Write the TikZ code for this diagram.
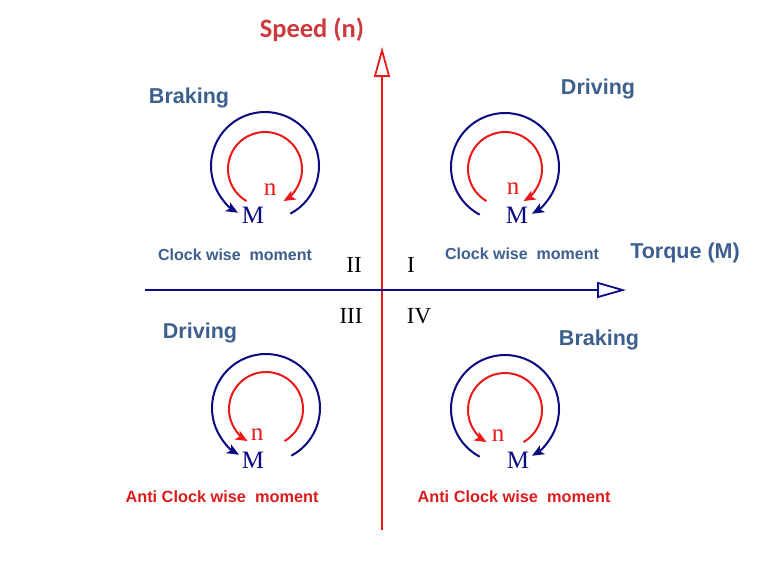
\documentclass[tikz,border=0pt]{standalone}
\usepackage{fontspec}
\setmainfont{Liberation Serif}
\setsansfont{Liberation Sans}
\newfontfamily\calfont{Carlito}
\usetikzlibrary{arrows.meta,calc}
\definecolor{navyc}{RGB}{10,10,130}
\definecolor{redc}{RGB}{235,25,25}
\definecolor{steelc}{RGB}{60,95,142}
\definecolor{speedc}{RGB}{205,58,62}
\definecolor{antic}{RGB}{222,28,28}
\tikzset{
  bluearc/.style={draw=navyc, line width=2pt, -{Stealth[length=12pt,width=10pt,inset=3pt]}},
  redarc/.style={draw=redc, line width=2pt, -{Stealth[length=12pt,width=10pt,inset=3pt]}},
  headtxt/.style={font=\sffamily\bfseries\fontsize{21.5}{23}\selectfont, text=steelc, inner sep=0pt},
  momtxt/.style={font=\sffamily\bfseries\fontsize{16}{18}\selectfont, text=steelc, inner sep=0pt},
  antitxt/.style={font=\sffamily\bfseries\fontsize{16.3}{18}\selectfont, text=antic, inner sep=0pt},
  romtxt/.style={font=\fontsize{23}{25}\selectfont, text=black, inner sep=0pt},
  ntxt/.style={font=\fontsize{25}{26}\selectfont, text=redc, inner sep=0pt},
  mtxt/.style={font=\fontsize{25}{26}\selectfont, text=navyc, inner sep=0pt},
}
\begin{document}
\begin{tikzpicture}[x=1pt,y=-1pt]
\useasboundingbox (0,0) rectangle (775,566);
% axes
\coordinate (vbot) at (382,530);
\coordinate (vtop) at (382,47);
\coordinate (hleft) at (145,290);
\coordinate (hright) at (626,290);
\draw[draw=redc, line width=2pt, -{Triangle[open,length=30pt,width=16pt,line width=1.8pt]}] (vbot) -- (vtop);
\draw[draw=navyc, line width=2pt, -{Triangle[open,length=29pt,width=16pt,line width=1.8pt]}] (hleft) -- (hright);
% axis labels
\node[font=\calfont\bfseries\fontsize{26.5}{28}\selectfont, text=speedc, inner sep=0pt] (speed) at (312,30) {Speed (n)};
\node[headtxt] (torque) at (685,253) {Torque (M)};
% quadrant headings
\node[headtxt] (h2) at (189,98) {Braking};
\node[headtxt] (h1) at (598,89) {Driving};
\node[headtxt] (h3) at (200,333) {Driving};
\node[headtxt] (h4) at (599,340) {Braking};
\node[momtxt] (m2) at (235,255) {Clock wise~~moment};
\node[momtxt] (m1) at (522,254) {Clock wise~~moment};
\node[antitxt] (m3) at (222,497) {Anti Clock wise~~moment};
\node[antitxt] (m4) at (514,497) {Anti Clock wise~~moment};
% roman numerals
\node[romtxt] (r2) at (354,265) {II};
\node[romtxt] (r1) at (411,265) {I};
\node[romtxt] (r3) at (351,316) {III};
\node[romtxt] (r4) at (419,316) {IV};
% circle centres
\coordinate (c2) at (265,166);
\coordinate (c1) at (505,167);
\coordinate (c3) at (266,408);
\coordinate (c4) at (505,409);
% quadrant II
\draw[bluearc] ($(c2)+(62:54)$) arc[start angle=62, end angle=-240, radius=54];
\draw[redarc] ($(c2)+(0,3)+(120:37)$) arc[start angle=120, end angle=420, radius=37];
% quadrant I
\draw[bluearc] ($(c1)+(118:54)$) arc[start angle=118, end angle=420, radius=54];
\draw[redarc] ($(c1)+(0,2)+(120:37)$) arc[start angle=120, end angle=420, radius=37];
% quadrant III
\draw[bluearc] ($(c3)+(62:54)$) arc[start angle=62, end angle=-240, radius=54];
\draw[redarc] ($(c3)+(0,1)+(60:37)$) arc[start angle=60, end angle=-240, radius=37];
% quadrant IV
\draw[bluearc] ($(c4)+(118:54)$) arc[start angle=118, end angle=420, radius=54];
\draw[redarc] ($(c4)+(0,1)+(60:37)$) arc[start angle=60, end angle=-240, radius=37];
% n and M labels
\node[ntxt] (n2) at (270,190) {n};
\node[mtxt] (M2) at (253,215) {M};
\node[ntxt] (n1) at (513,189) {n};
\node[mtxt] (M1) at (517,215) {M};
\node[ntxt] (n3) at (257,435) {n};
\node[mtxt] (M3) at (253,460) {M};
\node[ntxt] (n4) at (498,436) {n};
\node[mtxt] (M4) at (518,460) {M};
\end{tikzpicture}
\end{document}
